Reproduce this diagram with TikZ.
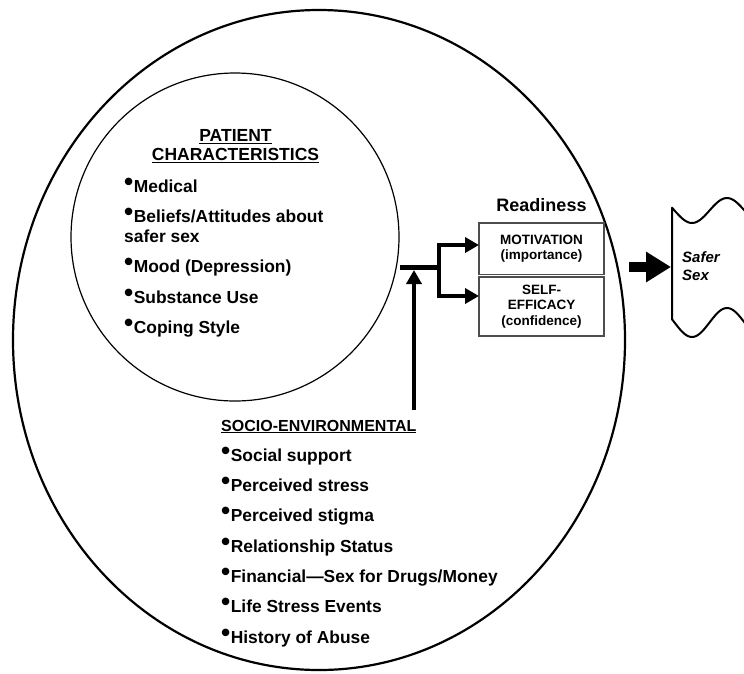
\documentclass[tikz,border=0pt]{standalone}
\usepackage{fontspec}
\setmainfont{Liberation Sans}
\usetikzlibrary{arrows.meta,positioning,shapes.geometric}
\definecolor{boxline}{HTML}{4d4d4d}
\newcommand{\bul}{\raisebox{2pt}{\scalebox{1.5}{\textbullet}}\hspace{0.5pt}}
\tikzset{
  outerzone/.style={draw,ellipse,line width=2.2pt,minimum width=612pt,minimum height=660pt,inner sep=0pt},
  innerzone/.style={draw,circle,line width=1.2pt,minimum size=328pt,inner sep=0pt},
  headtext/.style={inner sep=0pt,align=center,font=\bfseries\fontsize{17.5}{19}\selectfont},
  listtext/.style={inner sep=0pt,align=left,font=\bfseries\fontsize{17.4}{20}\selectfont},
  readybox/.style={draw=boxline,fill=white,line width=1.2pt,minimum width=125pt,inner sep=0pt,outer sep=0pt,align=center,font=\bfseries\fontsize{13.5}{15.5}\selectfont},
  link/.style={line width=4pt,-{Triangle[length=14pt,width=15pt]}},
  barline/.style={line width=4.5pt},
  bigarrow/.style={line width=10pt,-{Triangle[length=25pt,width=29pt]}}
}
\begin{document}
\begin{tikzpicture}[x=1pt,y=-1pt]
  \useasboundingbox (0,0) rectangle (744,673);
  \clip (0,0) rectangle (744,673);
  \node[outerzone] (outer) at (319,340) {};
  \node[innerzone] (inner) at (235,237) {};
  \node[headtext,anchor=north] (pchar) at (235.5,129.5) {\underline{PATIENT}\\\underline{CHARACTERISTICS}};
  \node[listtext,anchor=north west] (pitems) at (124,177.7) {\bul Medical\\[10.5pt]\bul Beliefs/Attitudes about\\safer sex\\[10pt]\bul Mood (Depression)\\[10.5pt]\bul Substance Use\\[10pt]\bul Coping Style};
  \node[inner sep=0pt,anchor=base west,font=\bfseries\fontsize{16}{18}\selectfont] (socio) at (221,431) {\underline{SOCIO-ENVIRONMENTAL}};
  \node[listtext,anchor=north west,font=\bfseries\fontsize{17.4}{30.33}\selectfont] (sitems) at (221,446.7) {\bul Social support\\\bul Perceived stress\\\bul Perceived stigma\\\bul Relationship Status\\\bul Financial---Sex for Drugs/Money\\\bul Life Stress Events\\\bul History of Abuse};
  \node[readybox,minimum height=51.5pt] (motiv) at (541.5,248.75) {MOTIVATION\\(importance)};
  \node[readybox,minimum height=59pt,below=2.5pt of motiv] (selfeff) {SELF-\\EFFICACY\\(confidence)};
  \node[inner sep=0pt,outer sep=0pt,above=11pt of motiv,font=\bfseries\fontsize{18}{20}\selectfont] (ready) {Readiness};
  \coordinate (jn) at (439,267.5);
  \coordinate (barstart) at (400,267.5);
  \coordinate (socioup) at (414,410);
  \draw[barline] (barstart) -- ([xshift=2pt]jn);
  \draw[link] (jn) |- ([yshift=3.75pt]motiv.west);
  \draw[link] (jn) |- ([yshift=10.5pt]selfeff.west);
  \draw[link,shorten >=2.5pt] (socioup) -- (socioup |- jn);
  \coordinate (bigstart) at (629,267);
  \coordinate (scroll) at (671,267);
  \draw[bigarrow] (bigstart) -- (scroll);
  \draw[line width=2pt,line join=round] plot[domain=760:672,samples=50] (\x,{210.5+12.5*cos(180*(\x-692)/35)}) -- plot[domain=672:760,samples=50] (\x,{322.5+14.5*cos(180*(\x-692)/35)});
  \node[inner sep=0pt,anchor=north west,align=left,font=\bfseries\itshape\fontsize{15}{18}\selectfont] (safer) at (682,251.3) {Safer\\Sex};
\end{tikzpicture}
\end{document}
